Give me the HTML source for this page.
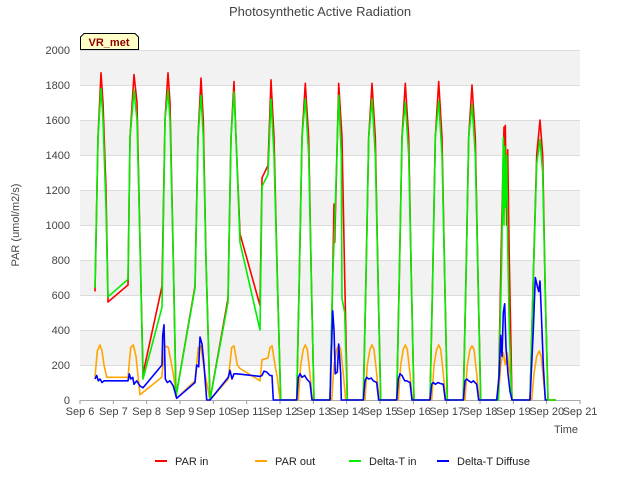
<!DOCTYPE html>
<html><head><meta charset="utf-8"><style>
body{margin:0;background:#fff;}
svg text{font-family:"Liberation Sans","DejaVu Sans",sans-serif;}
</style></head><body>
<svg id="chart" width="640" height="480" xmlns="http://www.w3.org/2000/svg">
<rect width="640" height="480" fill="#fff"/>
<text x="320" y="16" text-anchor="middle" font-size="13" fill="#444">Photosynthetic Active Radiation</text>
<g id="bands"></g><g id="grid"></g><g id="axes"></g><g id="series"></g>
<text transform="translate(19,225) rotate(-90)" text-anchor="middle" font-size="11" fill="#444">PAR (umol/m2/s)</text>
<text x="566" y="433" text-anchor="middle" font-size="11" fill="#444">Time</text>
<g>
<path d="M80.5,49.5 L80.5,37 L84,33.5 L135,33.5 L138.5,37 L138.5,49.5 Z" fill="#ffffc8" stroke="#000" stroke-width="1"/>
<text x="109" y="46" text-anchor="middle" font-size="11" font-weight="bold" fill="#8b0000">VR_met</text>
</g>
<g id="legend"></g>
</svg>
<script>
const yTicks=[0,200,400,600,800,1000,1200,1400,1600,1800,2000];
const xTickLabels=["Sep 6","Sep 7","Sep 8","Sep 9","Sep 10","Sep 11","Sep 12","Sep 13","Sep 14","Sep 15","Sep 16","Sep 17","Sep 18","Sep 19","Sep 20","Sep 21"];
const seriesNames=["PAR in","PAR out","Delta-T in","Delta-T Diffuse"];
const seriesColors=["#ff0000","#ffa500","#00ee00","#0000ff"];
// times in days since Sep 6
const parInT=[0.45,0.54,0.63,0.69,0.78,0.84,1.44,1.5,1.62,1.71,1.8,1.89,2.46,2.55,2.64,2.7,2.8,2.88,3.45,3.54,3.63,3.7,3.78,3.9,4.44,4.53,4.62,4.68,4.8,5.4,5.46,5.64,5.73,5.82,5.92,6.02,6.5,6.58,6.66,6.76,6.86,6.94,7.02,7.5,7.58,7.62,7.64,7.76,7.86,7.94,8.02,8.5,8.58,8.66,8.76,8.86,8.94,9.02,9.5,9.58,9.66,9.76,9.86,9.94,10.02,10.5,10.58,10.66,10.76,10.86,10.94,11.02,11.5,11.58,11.66,11.76,11.86,11.94,12.02,12.55,12.65,12.72,12.74,12.76,12.8,12.83,12.88,12.96,13.5,13.6,13.7,13.8,13.88,13.96,14.04,14.28];
const parInV=[620,1500,1870,1700,1200,560,657,1500,1860,1700,900,150,650,1600,1870,1700,800,20,650,1500,1840,1600,800,0,580,1500,1820,1500,950,540,1270,1340,1830,1500,700,0,0,700,1500,1810,1500,700,0,0,700,1120,900,1810,1500,700,0,0,700,1500,1810,1500,700,0,0,700,1500,1810,1500,700,0,0,700,1500,1820,1500,700,0,0,700,1500,1800,1500,700,0,0,1000,1560,1200,1570,1000,1430,800,0,0,700,1400,1600,1400,600,0,0];
const parOutT=[0.45,0.52,0.6,0.66,0.72,0.8,1.44,1.52,1.6,1.68,1.8,2.45,2.55,2.65,2.8,2.9,3.45,3.55,3.62,3.75,3.9,4.45,4.55,4.62,4.72,4.8,5.4,5.46,5.64,5.7,5.76,5.85,5.92,6.0,6.55,6.62,6.7,6.76,6.82,6.9,6.97,7.55,7.62,7.7,7.76,7.82,7.9,7.97,8.55,8.62,8.7,8.76,8.82,8.9,8.97,9.55,9.62,9.7,9.76,9.82,9.9,9.97,10.55,10.62,10.7,10.76,10.82,10.9,10.97,11.55,11.62,11.7,11.76,11.82,11.9,11.97,12.55,12.62,12.7,12.76,12.82,12.9,12.97,13.55,13.62,13.7,13.78,13.84,13.9,13.97,14.28];
const parOutV=[130,280,315,280,200,130,130,300,315,250,30,130,310,300,150,10,110,300,310,150,0,120,300,310,200,180,110,230,240,300,310,200,130,0,0,200,290,315,290,150,0,0,200,290,315,290,150,0,0,200,290,315,290,150,0,0,200,290,315,290,150,0,0,200,290,315,290,150,0,0,200,290,310,290,150,0,0,200,270,200,270,150,0,0,150,250,280,250,120,0,0];
const dtInT=[0.45,0.54,0.63,0.69,0.78,0.84,1.44,1.5,1.62,1.71,1.8,1.89,2.46,2.47,2.55,2.64,2.7,2.8,2.88,3.45,3.54,3.63,3.7,3.78,3.9,4.44,4.53,4.62,4.68,4.8,5.4,5.46,5.64,5.73,5.82,5.92,6.02,6.5,6.58,6.66,6.76,6.86,6.94,7.02,7.5,7.58,7.62,7.64,7.76,7.84,7.86,7.94,8.02,8.5,8.58,8.66,8.76,8.86,8.94,9.02,9.5,9.58,9.66,9.76,9.86,9.94,10.02,10.5,10.58,10.66,10.76,10.86,10.94,11.02,11.5,11.58,11.66,11.76,11.86,11.94,12.02,12.55,12.65,12.7,12.72,12.74,12.76,12.8,12.83,12.88,12.96,13.5,13.6,13.7,13.8,13.88,13.96,14.04,14.28];
const dtInV=[640,1500,1780,1600,1100,590,690,1500,1770,1600,900,120,530,640,1600,1770,1600,800,20,640,1500,1740,1500,800,0,560,1500,1760,1500,900,400,1220,1290,1720,1400,700,0,0,700,1500,1720,1400,700,0,0,700,900,1000,1740,1400,580,500,0,0,700,1500,1720,1400,700,0,0,700,1500,1700,1400,700,0,0,700,1500,1710,1400,700,0,0,700,1500,1690,1400,700,0,0,800,1500,1000,1450,1100,1400,900,400,0,0,700,1350,1490,1300,600,0,0];
const diffT=[0.45,0.5,0.55,0.6,0.66,0.72,1.44,1.48,1.52,1.58,1.62,1.7,1.8,1.89,2.46,2.48,2.52,2.56,2.62,2.7,2.8,2.9,3.45,3.5,3.56,3.6,3.66,3.72,3.8,3.9,4.45,4.5,4.56,4.62,4.7,5.4,5.46,5.52,5.6,5.7,5.76,5.8,6.5,6.55,6.6,6.66,6.74,6.8,6.9,6.96,7.5,7.54,7.58,7.62,7.66,7.72,7.76,7.82,7.84,8.5,8.55,8.6,8.66,8.74,8.8,8.9,8.96,9.5,9.55,9.6,9.66,9.74,9.8,9.9,9.96,10.5,10.55,10.6,10.66,10.74,10.8,10.9,10.96,11.5,11.55,11.6,11.66,11.74,11.8,11.9,11.96,12.5,12.58,12.62,12.66,12.7,12.74,12.78,12.84,12.9,12.96,13.5,13.6,13.66,13.72,13.76,13.8,13.84,13.9,13.96,14.02,14.28];
const diffV=[120,140,110,120,100,110,110,150,120,130,90,110,80,70,200,370,430,120,100,110,80,10,100,200,190,360,320,200,0,0,130,170,120,150,150,135,140,165,160,140,140,0,0,130,150,130,140,120,100,0,0,260,510,400,150,160,320,150,0,0,110,130,120,125,110,100,0,0,120,150,140,110,110,100,0,0,90,100,90,100,95,90,0,0,110,120,110,100,110,90,0,0,150,370,250,500,550,300,150,50,0,0,400,700,650,620,680,500,200,0,0];

const X0=80,X1=580,Y0=400,Y1=50;
const xs=t=>X0+t*(X1-X0)/15;
const ys=v=>Y0-v*(Y0-Y1)/2000;
const NS="http://www.w3.org/2000/svg";
function mk(tag,attrs,parent){const e=document.createElementNS(NS,tag);for(const k in attrs)e.setAttribute(k,attrs[k]);parent.appendChild(e);return e;}
const bands=document.getElementById('bands'),grid=document.getElementById('grid'),axes=document.getElementById('axes'),ser=document.getElementById('series'),leg=document.getElementById('legend');
for(let i=0;i<yTicks.length-1;i++){
  if(i%2===1){const r=mk('rect',{x:X0,y:ys(yTicks[i+1]),width:X1-X0,height:ys(yTicks[i])-ys(yTicks[i+1]),fill:'#f2f2f2'},bands);
  
  }
}
yTicks.forEach(v=>{
  const l=mk('line',{x1:X0,x2:X1,y1:ys(v)+0.5,y2:ys(v)+0.5,stroke:'#dcdcdc','stroke-width':1},grid);
  
  
  const t=mk('text',{x:X0-10,y:ys(v)+4,'text-anchor':'end','font-size':11,fill:'#444'},axes);
  t.textContent=v;
  
  
});
xTickLabels.forEach((s,i)=>{
  const x=xs(i);
  const l=mk('line',{x1:x,x2:x,y1:Y0,y2:Y0+4,stroke:'#999'},axes);
  
  
  const t=mk('text',{x:x,y:Y0+15,'text-anchor':'middle','font-size':11,fill:'#444'},axes);
  t.textContent=s;
  
  
});
const al=mk('line',{x1:X0,x2:X1,y1:Y0+0.5,y2:Y0+0.5,stroke:'#aaa'},axes);


const data=[[parInT,parInV],[parOutT,parOutV],[dtInT,dtInV],[diffT,diffV]];
const names=['par-in-line','par-out-line','delta-t-in-line','delta-t-diffuse-line'];
data.forEach((d,k)=>{
  const n=Math.min(d[0].length,d[1].length);
  const pts=d[0].slice(0,n).map((t,i)=>xs(t).toFixed(1)+','+ys(d[1][i]).toFixed(1)).join(' ');
  const p=mk('polyline',{points:pts,fill:'none',stroke:seriesColors[k],'stroke-width':1.6,'stroke-linejoin':'round'},ser);
  
  
});
const legX=[155,255,349,437];
seriesNames.forEach((n,i)=>{
  const g=mk('g',{},leg);
  
  
  mk('line',{x1:legX[i],x2:legX[i]+12,y1:461,y2:461,stroke:seriesColors[i],'stroke-width':2},g);
  const t=mk('text',{x:legX[i]+20,y:465,'font-size':11,fill:'#222'},g);
  t.textContent=n;
});
</script>
</body></html>
